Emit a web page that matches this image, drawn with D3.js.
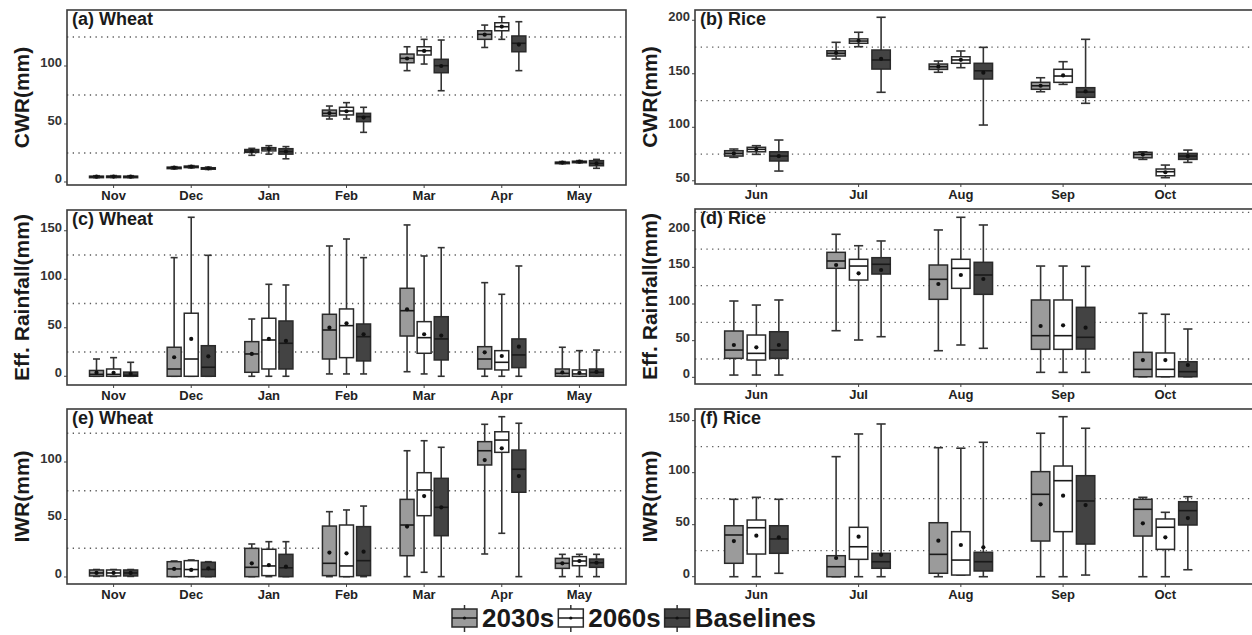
<!DOCTYPE html>
<html lang="en">
<head>
<meta charset="UTF-8">
<script src="https://d3js.org/d3.v7.min.js"></script>
<title>CWR, Eff. Rainfall and IWR - Wheat and Rice</title>
<style>
  body { margin: 0; background: #fff; }
  svg { display: block; font-family: "Liberation Sans", Arial, sans-serif; }
</style>
</head>
<body>
<svg id="chart" width="1252" height="635"></svg>
<script>
// ---- data: each box is [lowWhisker, q1, median, q3, highWhisker, mean] ----
const wheatMonths = ["Nov", "Dec", "Jan", "Feb", "Mar", "Apr", "May"];
const riceMonths = ["Jun", "Jul", "Aug", "Sep", "Oct"];
const seriesNames = ["2030s", "2060s", "Baselines"];
const seriesFills = ["#9b9b9b", "#ffffff", "#434343"];

// (a) wheat CWR
const cwrWheat2030 = [[3.8,4.2,4.6,5.0,5.4,4.6],[11.3,11.8,12.3,12.8,13.2,12.3],[23,25.5,26.7,28,29,26.7],[54.3,56.9,59.2,62,65.5,59.4],[96,102.8,106.6,110.3,116.6,106.5],[116,123,127.3,130.4,135.3,127],[15.8,16.3,16.7,17.1,17.6,16.7]];
const cwrWheat2060 = [[3.9,4.3,4.7,5.1,5.5,4.7],[12.2,12.7,13.2,13.7,14.1,13.2],[24,26.8,28.4,29.6,31.3,28.4],[54.3,57.8,61.2,64.4,68.4,61],[101.7,109.5,113.2,116.6,123,113],[123,130.4,133.9,137.3,142.5,134],[16.6,17.1,17.5,17.9,18.4,17.5]];
const cwrWheatBase = [[3.8,4.2,4.6,5.0,5.4,4.6],[10.8,11.3,11.8,12.3,12.8,11.8],[20,24,26.2,28.7,30.5,26.3],[42.8,52,56.3,59.2,64.4,55.5],[78.7,94.2,100.3,105.8,122.4,100],[96,112.3,119.6,125.9,138.2,118.5],[11.8,14,16,18.4,19.5,16]];

// (b) rice CWR
const cwrRice2030 = [[71.9,73.1,75.6,78.1,79.7,75.6],[163.8,166.6,169.1,171.5,179.4,169.5],[151.4,154.1,156.6,159.1,161.9,156.6],[133.2,135.5,138.8,142,146.3,138.8],[70,71.5,74.7,76.6,77.1,74.5]];
const cwrRice2060 = [[74.7,77.1,79.4,81.3,82.8,79.4],[175.3,178.5,180.6,182.6,188.8,180.8],[155.7,159.8,162.9,165.9,171.3,163],[140.1,142,147.9,154.2,161.3,148.5],[52.9,54.7,58.5,61,64.7,58]];
const cwrRiceBase = [[59.1,68.5,73.1,77.1,88.1,73],[132.7,154.4,162.9,172.2,202.8,164],[102.1,145.1,152.8,159.8,174.7,151],[122.4,128,132.9,137,182.2,133.5],[67.2,70,73.1,75.6,78.7,73]];

// (c) wheat effective rainfall
const rainWheat2030 = [[0,0,2,6,17.8,3.7],[0,0,7.5,29.9,122.3,19.6],[0,4.1,23,35.7,59,23],[2.4,17.8,47.7,63.9,134.3,50.1],[4.7,41.5,67.6,90.7,156,69],[0,7.5,17.8,30.5,96.5,24.7],[0,0,3,7.5,29.9,4]];
const rainWheat2060 = [[0,0,2,7.5,19.2,3.5],[0,0,17.8,65,163.9,38.5],[0,7.5,37.4,59.8,94.8,38.5],[2.4,19.2,52.2,69.4,141.5,54.6],[2.4,23.7,39.8,56.3,124,43.3],[0,6.5,14.4,26.4,84.5,20.9],[0,0,2.4,6.5,26.4,3.5]];
const rainWheatBase = [[0,0,1,4.3,14.4,2.5],[0,0,9.3,31.5,124.7,20.6],[0,7.5,34,57,94.1,36.4],[2.4,15.8,40.8,53.9,122.3,43.3],[0,16.8,38.5,61.4,132.6,41.9],[0,8.9,22,38.5,113.7,30.5],[0,0,4,7.5,27,4.5]];

// (d) rice effective rainfall
const rainRice2030 = [[3.1,25.9,37.2,63.2,104.1,44.1],[63.6,148.7,158.7,170.5,195.1,153.2],[36.3,106.4,133.7,153.2,201,127.3],[6.8,38.2,56.8,105.5,151.8,70],[0.8,0.8,10.9,34.1,87.3,23.6]];
const rainRice2060 = [[3.1,23.6,32.7,57.7,98.6,40.9],[50.9,132.7,151.8,161,179.5,141.9],[44.1,121.4,148.7,161,218.3,139.6],[6.8,38.2,56.8,105.5,151.8,70.9],[0.8,0.8,10.9,33.2,86,23.6]];
const rainRiceBase = [[3.1,25.9,37.2,62.2,105.5,44.1],[55.4,140.9,154.2,163.2,186,146.4],[39.6,113.2,139.6,156.9,207.8,134.1],[6.8,38.6,54.6,95.5,151.4,67.7],[0.8,0.8,7.7,21.3,65.9,16.8]];

// (e) wheat IWR
const iwrWheat2030 = [[0.5,0.9,3.5,6.1,6.5,3.5],[0.3,0.3,7,13.3,13.9,7],[0.3,0.3,8.4,24.9,28.7,11.9],[0.3,1.2,11.9,44.3,56.8,21.2],[0.3,18.5,45.2,67.5,109.8,43.8],[20,97.4,109.8,117.7,132.8,101.7],[0.3,7.5,11.9,16.2,19.7,11.9]];
const iwrWheat2060 = [[0.5,0.9,3.5,6.1,6.5,3.5],[0.3,0.3,6.5,14.2,14.8,6.1],[0.3,1.2,9.6,24.1,30.7,10.4],[0.3,0.3,9.6,45.2,58.3,20.6],[4.1,53.3,75.7,90.7,118.5,70.4],[38,108.4,119.1,126.3,139.4,111.9],[0.3,9.8,13.9,17.7,19.7,13.9]];
const iwrWheatBase = [[0.5,0.9,3.5,6.1,6.5,3.5],[0.3,0.3,6.5,12.8,13.3,7.5],[0.3,0.3,8,19.7,30.7,9],[0.3,1.2,14.2,43.8,61.7,22],[0.3,35.9,60.6,85.8,112.8,60.6],[0.3,73.7,93.7,110.4,133.7,87.8],[0.3,8.4,12.4,15.6,19.7,12.4]];

// (f) rice IWR
const iwrRice2030 = [[0,12.9,40.1,49,74.4,34.3],[0,0,9.6,20.2,115.4,18],[0,3.3,21.5,51.9,124,34.6],[0,34.3,79.2,101,137.9,69.6],[0,39.1,64.8,74.4,76.3,51.3]];
const iwrRice2060 = [[0,21.8,47.1,54.5,76.3,39.4],[0,16.7,28.8,47.5,137.2,38.5],[1.6,1.6,16,43.3,123.5,30.5],[0,43.3,92.3,106.4,153.8,77.9],[0,26.3,47.5,55.5,61.9,37.9]];
const iwrRiceBase = [[3.3,22.5,36.3,49,74.4,37.9],[0,8.1,14.4,22.5,146.8,21],[0,5.5,14.4,23.5,129.2,28.3],[1.6,31.4,72.8,97.1,142.7,68.9],[6.7,49.7,63.5,72.1,76.9,56.4]];

// tick values and dotted reference lines per panel
const ticksA = [0, 50, 100], gridA = [25, 75, 125];
const ticksB = [50, 100, 150, 200], gridB = [75, 125, 175];
const ticksC = [0, 50, 100, 150], gridC = [25, 75, 125];
const ticksD = [0, 50, 100, 150, 200], gridD = [25, 75, 125, 175, 225];
const ticksE = [0, 50, 100], gridE = [25, 75, 125];
const ticksF = [0, 50, 100, 150], gridF = [25, 75, 125];

// ---- layout ----
const svg = d3.select("#chart");
const LEFT = { x0: 67, x1: 626, unit: (626 - 67) / 7.2 };
const RIGHT = { x0: 695, x1: 1300, unit: 102.25 };

const panels = [
  { col: LEFT, y0: 10, y1: 185, months: wheatMonths, dom: [-2.6, 148.3], ticks: ticksA, grid: gridA, tag: "(a) Wheat", ytitle: "CWR(mm)", data: [cwrWheat2030, cwrWheat2060, cwrWheatBase] },
  { col: RIGHT, y0: 10, y1: 184, months: riceMonths, dom: [47, 209.6], ticks: ticksB, grid: gridB, tag: "(b) Rice", ytitle: "CWR(mm)", data: [cwrRice2030, cwrRice2060, cwrRiceBase] },
  { col: LEFT, y0: 210, y1: 385, months: wheatMonths, dom: [-9, 171.4], ticks: ticksC, grid: gridC, tag: "(c) Wheat", ytitle: "Eff. Rainfall(mm)", data: [rainWheat2030, rainWheat2060, rainWheatBase] },
  { col: RIGHT, y0: 209, y1: 384, months: riceMonths, dom: [-9.1, 229.6], ticks: ticksD, grid: gridD, tag: "(d) Rice", ytitle: "Eff. Rainfall(mm)", data: [rainRice2030, rainRice2060, rainRiceBase] },
  { col: LEFT, y0: 409, y1: 584, months: wheatMonths, dom: [-6.1, 146.1], ticks: ticksE, grid: gridE, tag: "(e) Wheat", ytitle: "IWR(mm)", data: [iwrWheat2030, iwrWheat2060, iwrWheatBase] },
  { col: RIGHT, y0: 409, y1: 584, months: riceMonths, dom: [-7, 161.2], ticks: ticksF, grid: gridF, tag: "(f) Rice", ytitle: "IWR(mm)", data: [iwrRice2030, iwrRice2060, iwrRiceBase] }
];

panels.forEach(drawPanel);
drawLegend();

function drawPanel(p) {
  const c = p.col;
  const n = p.months.length;
  const x = d3.scalePoint().domain(p.months)
    .range([c.x0 + 0.6 * c.unit, c.x0 + (n - 1 + 0.6) * c.unit]);
  const y = d3.scaleLinear().domain(p.dom).range([p.y1, p.y0]);
  const step = x.step();
  const g = svg.append("g");

  // dotted reference lines
  g.selectAll(".grid").data(p.grid).enter().append("line")
    .attr("x1", c.x0).attr("x2", c.x1)
    .attr("y1", d => y(d)).attr("y2", d => y(d))
    .attr("stroke", "#5a5a5a").attr("stroke-width", 1.3)
    .attr("stroke-dasharray", "1.3 4.4");

  // y axis ticks + labels
  g.selectAll(".yt").data(p.ticks).enter().append("line")
    .attr("x1", c.x0 - 3).attr("x2", c.x0)
    .attr("y1", d => y(d)).attr("y2", d => y(d))
    .attr("stroke", "#444").attr("stroke-width", 1);
  g.selectAll(".yl").data(p.ticks).enter().append("text")
    .attr("x", c.x0 - 5).attr("y", d => y(d) + 1)
    .attr("text-anchor", "end")
    .style("font-size", "13px").style("font-weight", "bold").attr("fill", "#333")
    .text(d => d);

  // x labels
  g.selectAll(".xt").data(p.months).enter().append("line")
    .attr("x1", d => x(d)).attr("x2", d => x(d))
    .attr("y1", p.y1).attr("y2", p.y1 + 3)
    .attr("stroke", "#444");
  g.selectAll(".xl").data(p.months).enter().append("text")
    .attr("x", d => x(d)).attr("y", p.y1 + 14.5)
    .attr("text-anchor", "middle")
    .style("font-size", "13px").style("font-weight", "bold").attr("fill", "#222")
    .text(d => d);

  // boxes
  const bw = 0.18 * step, cap = bw * 0.5;
  p.data.forEach((series, si) => {
    const off = (si - 1) * 0.22 * step;
    const grp = g.selectAll(".b" + si).data(series).enter().append("g")
      .attr("transform", (d, i) => `translate(${x(p.months[i]) + off},0)`);
    grp.append("line")
      .attr("y1", d => y(d[0])).attr("y2", d => y(d[4]))
      .attr("stroke", "#333").attr("stroke-width", 1.6);
    grp.selectAll(".cap").data(d => [d[0], d[4]]).enter().append("line")
      .attr("x1", -cap / 2).attr("x2", cap / 2)
      .attr("y1", v => y(v)).attr("y2", v => y(v))
      .attr("stroke", "#333").attr("stroke-width", 1.6);
    grp.append("rect")
      .attr("x", -bw / 2).attr("width", bw)
      .attr("y", d => y(d[3]))
      .attr("height", d => Math.max(1.5, y(d[1]) - y(d[3])))
      .attr("fill", seriesFills[si])
      .attr("stroke", "#2a2a2a").attr("stroke-width", 1.5);
    grp.append("line")
      .attr("x1", -bw / 2).attr("x2", bw / 2)
      .attr("y1", d => y(d[2])).attr("y2", d => y(d[2]))
      .attr("stroke", "#1a1a1a").attr("stroke-width", 1.6);
    grp.append("circle")
      .attr("cx", 0).attr("cy", d => y(d[5])).attr("r", 2.1)
      .attr("fill", "#111");
  });

  // panel border
  g.append("rect")
    .attr("x", c.x0).attr("y", p.y0)
    .attr("width", c.x1 - c.x0).attr("height", p.y1 - p.y0)
    .attr("fill", "none").attr("stroke", "#3c3c3c").attr("stroke-width", 1.6);

  // panel tag
  g.append("text")
    .attr("x", c.x0 + 5).attr("y", p.y0 + 14.5)
    .style("font-size", "18px").style("font-weight", "bold").attr("fill", "#1a1a1a")
    .text(p.tag);

  // y title
  const tx = c.x0 - 45, ty = (p.y0 + p.y1) / 2;
  g.append("text")
    .attr("transform", `translate(${tx},${ty}) rotate(-90)`)
    .attr("text-anchor", "middle").attr("dy", "0.35em")
    .style("font-size", "21px").style("font-weight", "bold").attr("fill", "#1a1a1a")
    .text(p.ytitle);
}

function drawLegend() {
  const lg = svg.append("g");
  let cx = 452;
  const cy = 618;
  seriesNames.forEach((name, i) => {
    const k = lg.append("g").attr("transform", `translate(${cx},0)`);
    k.append("line").attr("x1", 12.5).attr("x2", 12.5)
      .attr("y1", cy - 13).attr("y2", cy + 14)
      .attr("stroke", "#333").attr("stroke-width", 1.5);
    k.append("rect").attr("x", 0).attr("y", cy - 9).attr("width", 25).attr("height", 18)
      .attr("fill", seriesFills[i]).attr("stroke", "#2a2a2a").attr("stroke-width", 1.5);
    k.append("line").attr("x1", 0).attr("x2", 25).attr("y1", cy).attr("y2", cy)
      .attr("stroke", "#1a1a1a").attr("stroke-width", 1.5);
    k.append("circle").attr("cx", 12.5).attr("cy", cy).attr("r", 1.6).attr("fill", "#111");
    const t = lg.append("text").attr("x", cx + 30).attr("y", cy + 9)
      .style("font-size", "26px").style("font-weight", "bold").attr("fill", "#1a1a1a")
      .text(name);
    cx += 30 + t.node().getComputedTextLength() + 4;
  });
}
</script>
</body>
</html>
